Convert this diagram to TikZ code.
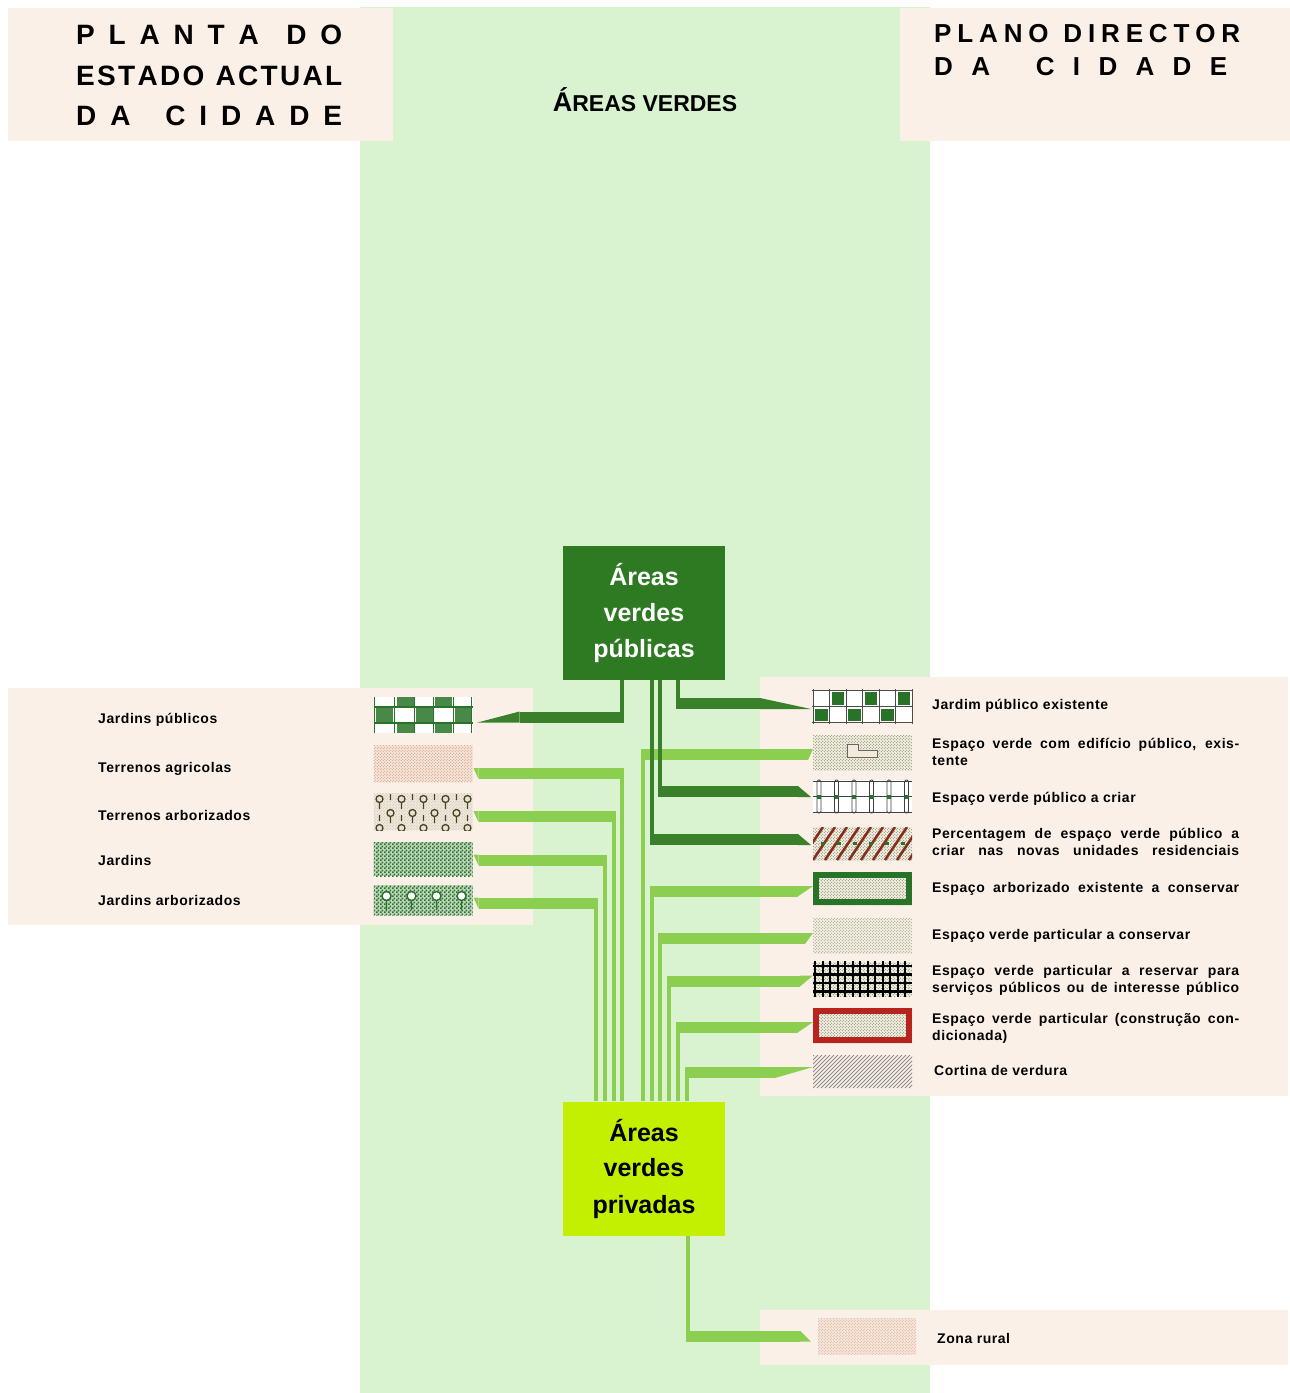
\documentclass[tikz,border=0pt]{standalone}
\usepackage{fontspec}
\setmainfont{Liberation Sans}
\newfontfamily\legfont{Liberation Sans}[LetterSpace=4]
\usetikzlibrary{patterns.meta,calc}

\definecolor{colgreen}{RGB}{217,242,208}
\definecolor{paper}{RGB}{251,240,232}
\definecolor{paperdk}{RGB}{244,234,220}
\definecolor{pubgreen}{RGB}{46,122,34}
\definecolor{bardark}{RGB}{58,128,42}
\definecolor{barlight}{RGB}{140,206,80}
\definecolor{lime}{RGB}{194,240,0}
\definecolor{deepgreen}{RGB}{40,115,40}
\definecolor{dotgreen}{RGB}{125,150,105}
\definecolor{salmon}{RGB}{215,160,140}
\definecolor{pinkbg}{RGB}{247,232,220}
\definecolor{brickred}{RGB}{185,35,30}
\definecolor{rustbrown}{RGB}{135,45,30}
\definecolor{treebrown}{RGB}{70,70,35}

\newcommand\wordgap[1]{\hskip 0pt plus #1fill\relax}

\tikzdeclarepattern{
  name=speckle, type=uncolored,
  bottom left={(-.1pt,-.1pt)}, top right={(3.1pt,3.1pt)}, tile size={(3pt,3pt)},
  code={\tikzset{x=1pt,y=1pt}
    \fill (0.75,0.75) circle (0.6);
    \fill (2.25,2.25) circle (0.6);}
}
\tikzdeclarepattern{
  name=chequer, type=uncolored,
  bottom left={(0pt,0pt)}, top right={(4pt,4pt)}, tile size={(4pt,4pt)},
  code={\tikzset{x=1pt,y=1pt}
    \fill (0,0) rectangle (2,2);
    \fill (2,2) rectangle (4,4);}
}

\tikzset{
  swatch/.style={minimum width=99pt, minimum height=#1, inner sep=0pt, outer sep=0pt},
  dotfill/.style 2 args={fill=#1, postaction={pattern=speckle, pattern color=#2}},
  legtext/.style={font=\legfont\bfseries\fontsize{14}{17}\selectfont, anchor=base west, inner sep=0pt},
  heading/.style={font=\bfseries\fontsize{28}{28}\selectfont, anchor=base west, inner sep=0pt},
  areabox/.style={minimum width=162pt, minimum height=134pt, inner sep=0pt, align=center,
    font=\bfseries\fontsize{25}{36}\selectfont},
  darkbar/.style={draw=bardark, line width=11pt},
  darkstem/.style={draw=bardark, line width=4.5pt},
  lightbar/.style={draw=barlight, line width=11pt},
  lightstem/.style={draw=barlight, line width=4.5pt}
}

\begin{document}
\begin{tikzpicture}[x=1pt,y=-1pt]
\useasboundingbox (0,0) rectangle (1290,1393);
% background bands
\fill[colgreen] (360,7) rectangle (930,1393);
\fill[paper] (8,8) rectangle (393,141);
\fill[paper] (900,8) rectangle (1290,141);
\fill[paper] (8,688) rectangle (533,925);
\fill[paper] (760,677) rectangle (1288,1096);
\fill[paper] (760,1310) rectangle (1288,1365);

% headings
\node[heading] (plt1) at (76,44) {\makebox[266pt][s]{P\hfill L\hfill A\hfill N\hfill T\hfill A\wordgap{2}D\hfill O}};
\node[heading] (plt2) at (76,85) {\makebox[266pt][s]{E\hfill S\hfill T\hfill A\hfill D\hfill O\hskip 9pt\wordgap{1}A\hfill C\hfill T\hfill U\hfill A\hfill L}};
\node[heading] (plt3) at (76,125) {\makebox[266pt][s]{D\hfill A\wordgap{2.5}C\hfill I\hfill D\hfill A\hfill D\hfill E}};
\node[heading, font=\bfseries\fontsize{26}{26}\selectfont] (pdc1) at (934,42) {\makebox[306pt][s]{P\hfill L\hfill A\hfill N\hfill O\hskip 9pt\wordgap{1}D\hfill I\hfill R\hfill E\hfill C\hfill T\hfill O\hfill R}};
\node[heading, font=\bfseries\fontsize{26}{26}\selectfont] (pdc2) at (934,75) {\makebox[293pt][s]{D\hfill A\wordgap{2.5}C\hfill I\hfill D\hfill A\hfill D\hfill E}};
\node[anchor=base, inner sep=0pt, font=\bfseries] (avt) at (645,111)
  {{\fontsize{27}{27}\selectfont Á}{\fontsize{23}{23}\selectfont REAS VERDES}};

% swatches, left
\node[swatch=36pt, fill=white] (jpu) at (423,715) {};
\begin{scope}[shift={(jpu.north west)}]
  \foreach \x/\y/\h in {23/0/10, 61/0/10, 2/10/16, 42/10/16, 81/10/16, 23/26/10, 61/26/10}
    \fill[deepgreen!85] (\x,\y) rectangle +(17,\h);
  \draw[deepgreen, line width=1.2pt] (0,10) -- (99,10) (0,26) -- (99,26);
  \foreach \x in {1,21,41,60,80,98}
    \draw[deepgreen, line width=1pt] (\x,0) -- (\x,36);
\end{scope}
\node[swatch=37pt, dotfill={pinkbg}{salmon}] (tag) at (423,763.5) {};
\node[swatch=37pt, dotfill={paperdk}{treebrown!30}] (tar) at (423,811.5) {};
\begin{scope}[shift={(tar.north west)}]
  \clip (0,0) rectangle (99,37);
  \foreach \k in {0,...,4}{
    \draw[treebrown, line width=1.3pt] (6+22*\k,6) circle[radius=3.5pt] (6+22*\k,9.5) -- (6+22*\k,16);
    \draw[treebrown, line width=1.3pt] (6+22*\k,35) circle[radius=3.5pt] (6+22*\k,22) -- (6+22*\k,28);
    \draw[treebrown, line width=1.3pt] (17+22*\k,20) circle[radius=3.5pt] (17+22*\k,23.5) -- (17+22*\k,30) (17+22*\k,1) -- (17+22*\k,7);
  }
\end{scope}
\node[swatch=34pt, fill=deepgreen!30!white, postaction={pattern=chequer, pattern color=deepgreen}] (jar) at (423,859) {};
\node[swatch=30pt, fill=deepgreen!30!white, postaction={pattern=chequer, pattern color=deepgreen}] (jaa) at (423,900) {};
\begin{scope}[shift={(jaa.north west)}]
  \foreach \k in {0,...,3}
    \draw[deepgreen, fill=white, line width=1.4pt] (13+25*\k,11) circle[radius=4.5pt] (13+25*\k,15.5) -- (13+25*\k,25);
\end{scope}

% swatches, right
\node[swatch=33pt, fill=white] (jpe) at (862.5,706.5) {};
\begin{scope}[shift={(jpe.north west)}]
  \foreach \c/\r in {1/0,3/0,5/0,0/1,2/1,4/1}
    \fill[deepgreen] (\c*16.5+2,\r*16.5+2) rectangle +(12.5,12.5);
  \foreach \c in {0,...,6}
    \draw[black!70, line width=0.8pt] (\c*16.5,-1) -- (\c*16.5,34);
  \draw[black!70, line width=0.8pt] (-1,0.5) -- (100,0.5) (-1,16.5) -- (100,16.5) (-1,32.5) -- (100,32.5);
\end{scope}
\node[swatch=35pt, dotfill={paper}{dotgreen}] (edi) at (862.5,752.5) {};
\begin{scope}[shift={(edi.north west)}]
  \filldraw[fill=paperdk, draw=black!60, line width=0.8pt] (34,9) -- (45,9) -- (45,15) -- (64,15) -- (64,22) -- (34,22) -- cycle;
\end{scope}
\node[swatch=33pt, fill=white] (vpc) at (862.5,796.5) {};
\begin{scope}[shift={(vpc.north west)}]
  \draw[black!75, line width=0.8pt] (0,1) -- (99,1) (0,16.5) -- (99,16.5) (0,32) -- (99,32);
  \foreach \k in {0,...,5}{
    \draw[black!75, line width=0.8pt, rounded corners=1.5pt] (4+17.5*\k,0) rectangle (8+17.5*\k,33);
    \fill[deepgreen] (4+17.5*\k,14.5) rectangle +(4,4);
  }
\end{scope}
\node[swatch=33pt, dotfill={paper}{dotgreen}] (pct) at (862.5,843.5) {};
\begin{scope}[shift={(pct.north west)}]
  \clip (0,0) rectangle (99,33);
  \foreach \x in {-24,-12,...,108}
    \draw[rustbrown, line width=2.6pt] (\x,33) -- (\x+22,0);
  \foreach \x in {8,24,...,96}
    \fill[deepgreen] (\x,15) rectangle +(4,3);
\end{scope}
\node[swatch=33pt, dotfill={paper}{dotgreen}] (aec) at (862.5,888.5) {};
\draw[deepgreen, line width=6pt] ([shift={(3,3)}]aec.north west) rectangle ([shift={(-3,-3)}]aec.south east);
\node[swatch=35pt, dotfill={paper}{dotgreen!80}] (vpa) at (862.5,935.5) {};
\node[swatch=34pt, dotfill={paper}{dotgreen}] (vpr) at (862.5,979) {};
\begin{scope}[shift={(vpr.north west)}]
  \foreach \x in {2,9.5,...,99}
    \draw[black, line width=2pt] (\x,-1) -- (\x,35);
  \foreach \y in {4,12.5,21,29.5}
    \draw[black, line width=2.4pt] (0,\y) -- (99,\y);
\end{scope}
\node[swatch=35pt, dotfill={paper}{dotgreen}] (vcc) at (862.5,1025.5) {};
\draw[brickred, line width=6pt] ([shift={(3,3)}]vcc.north west) rectangle ([shift={(-3,-3)}]vcc.south east);
\node[swatch=33pt, fill=paper] (cve) at (862.5,1071.5) {};
\begin{scope}[shift={(cve.north west)}]
  \clip (0,0) rectangle (99,33);
  \foreach \x in {-36,-32,...,100}
    \draw[black!45, line width=0.9pt] (\x,33) -- (\x+33,0);
\end{scope}
\node[swatch=36pt, minimum width=98pt, dotfill={pinkbg}{salmon!80}] (zru) at (867,1336) {};

% legend texts
\node[legtext] (ljp) at (98,723) {Jardins públicos};
\node[legtext] (lta) at (98,772) {Terrenos agricolas};
\node[legtext] (ltr) at (98,820) {Terrenos arborizados};
\node[legtext] (lja) at (98,865) {Jardins};
\node[legtext] (ljr) at (98,905) {Jardins arborizados};
\node[legtext] (rjp) at (932,709) {Jardim público existente};
\node[legtext] (red1) at (932,748) {\makebox[307pt][s]{Espaço verde com edifício público, exis-}};
\node[legtext] (red2) at (932,765) {tente};
\node[legtext] (rvc) at (932,802) {Espaço verde público a criar};
\node[legtext] (rpc1) at (932,838) {\makebox[307pt][s]{Percentagem de espaço verde público a}};
\node[legtext] (rpc2) at (932,855) {\makebox[307pt][s]{criar nas novas unidades residenciais}};
\node[legtext] (rae) at (932,892) {\makebox[307pt][s]{Espaço arborizado existente a conservar}};
\node[legtext] (rvp) at (932,939) {Espaço verde particular a conservar};
\node[legtext] (rvr1) at (932,975) {\makebox[307pt][s]{Espaço verde particular a reservar para}};
\node[legtext] (rvr2) at (932,992) {\makebox[307pt][s]{serviços públicos ou de interesse público}};
\node[legtext] (rcc1) at (932,1023) {\makebox[307pt][s]{Espaço verde particular (construção con-}};
\node[legtext] (rcc2) at (932,1040) {dicionada)};
\node[legtext] (rcv) at (934,1075) {Cortina de verdura};
\node[legtext] (rzr) at (937,1343) {Zona rural};

% the two boxes
\node[areabox, fill=pubgreen, text=white] (pub) at (644,613) {Áreas\\verdes\\públicas};
\node[areabox, fill=lime, text=black] (priv) at (644,1168.5) {Áreas\\verdes\\privadas};

% connectors to the private box
\foreach \sw/\dx/\dy in {tag/-22/10, tar/-30/5, jar/-39/1, jaa/-48/3}{
  \coordinate (s) at ([shift={(\dx,0)}]priv.north);
  \coordinate (e) at ([shift={(6,\dy)}]\sw.east);
  \draw[lightstem] (s) -- ($(s |- e)+(0,-5.5)$);
  \draw[lightbar] ($(s |- e)+(2.25,0)$) -- (e);
  \fill[barlight] ($(e)+(0,-5.5)$) -- ($(e)+(-5,-5.5)$) -- ($(e)+(0,5.5)$) -- cycle;
}
\foreach \sw/\dx/\dy/\len in {edi/-1/2/5, aec/8/3/16, vpa/16/3/8, vpr/25/2/13, vcc/34/2/16, cve/43/1/38}{
  \coordinate (s) at ([shift={(\dx,0)}]priv.north);
  \coordinate (e) at ([shift={(-\len,\dy)}]\sw.west);
  \draw[lightstem] (s) -- ($(s |- e)+(0,-5.5)$);
  \draw[lightbar] ($(s |- e)+(-2.25,0)$) -- (e);
  \fill[barlight] ($(e)+(0,-5.5)$) -- ($(e)+(\len,-5.5)$) -- ($(e)+(0,5.5)$) -- cycle;
}
\coordinate (s) at ([shift={(44,0)}]priv.south);
\coordinate (e) at ([shift={(-18,0)}]zru.west);
\draw[lightstem] (s) -- ($(s |- e)+(0,5.5)$);
\draw[lightbar] ($(s |- e)+(-2.25,0)$) -- (e);
\fill[barlight] ($(e)+(0,-5.5)$) -- ($(e)+(11,5.5)$) -- ($(e)+(0,5.5)$) -- cycle;

% connectors from the public box
\coordinate (s) at ([shift={(-22,0)}]pub.south);
\coordinate (e) at ([shift={(47,2)}]jpu.east);
\draw[darkstem] (s) -- ($(s |- e)+(0,5.5)$);
\draw[darkbar] ($(s |- e)+(2.25,0)$) -- (e);
\fill[bardark] ($(e)+(0,-5.5)$) -- ($(e)+(0,5.5)$) -- ($(e)+(-42,5.5)$) -- cycle;
\foreach \sw/\dx/\dy/\len in {jpe/34/-3/53, vpc/16/-5/15, pct/8/-4/15}{
  \coordinate (s) at ([shift={(\dx,0)}]pub.south);
  \coordinate (e) at ([shift={(-\len,\dy)}]\sw.west);
  \draw[darkstem] (s) -- ($(s |- e)+(0,5.5)$);
  \draw[darkbar] ($(s |- e)+(-2.25,0)$) -- (e);
  \fill[bardark] ($(e)+(0,-5.5)$) -- ($(e)+(\len-2,5.5)$) -- ($(e)+(0,5.5)$) -- cycle;
}
\end{tikzpicture}
\end{document}
